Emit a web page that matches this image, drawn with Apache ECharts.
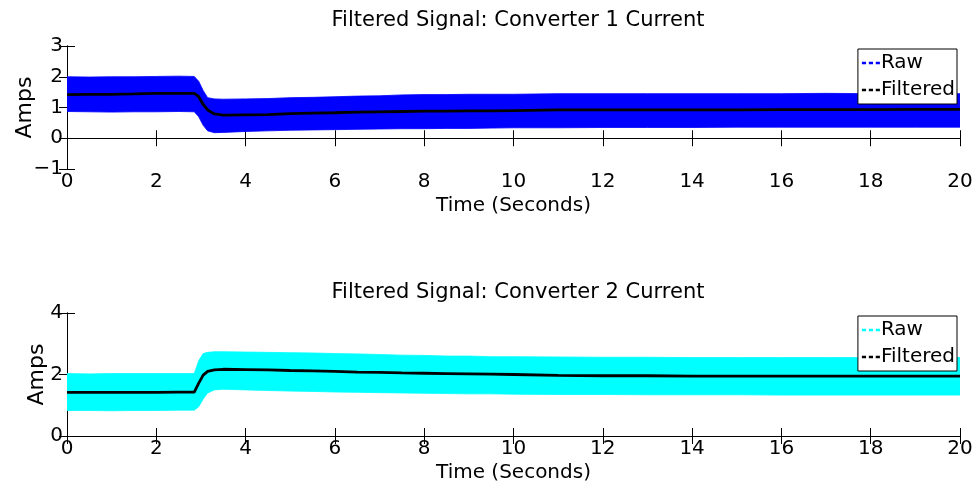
<!DOCTYPE html>
<html>
<head>
<meta charset="utf-8">
<script src="https://cdn.jsdelivr.net/npm/echarts@6/dist/echarts.min.js"></script>
<style>
  html, body { margin: 0; padding: 0; background: #fff; }
  #chart { width: 977px; height: 489px; }
</style>
</head>
<body>
<div id="chart"></div>
<script>
// time samples (seconds), shared by both converters
var times = [0, 0.5, 1, 1.5, 2, 2.5, 2.85, 2.95, 3.05, 3.15, 3.3, 3.5, 4, 4.5, 5, 5.5, 6, 6.5, 7, 7.5, 8, 8.5, 9, 9.5, 10, 11, 12, 13, 14, 15, 16, 17, 18, 19, 20];

// converter 1: raw envelope (upper / lower) and filtered
var conv1Upper = [2.0, 1.99, 2.0, 2.0, 2.01, 2.02, 2.01, 1.85, 1.55, 1.32, 1.28, 1.27, 1.28, 1.29, 1.32, 1.33, 1.35, 1.37, 1.38, 1.41, 1.42, 1.42, 1.43, 1.43, 1.43, 1.45, 1.45, 1.45, 1.45, 1.45, 1.45, 1.46, 1.45, 1.45, 1.45];
var conv1Lower = [0.87, 0.86, 0.85, 0.86, 0.86, 0.87, 0.86, 0.7, 0.42, 0.24, 0.18, 0.19, 0.22, 0.24, 0.26, 0.27, 0.28, 0.29, 0.3, 0.31, 0.31, 0.32, 0.32, 0.33, 0.34, 0.34, 0.35, 0.35, 0.35, 0.36, 0.36, 0.36, 0.36, 0.36, 0.36];
var conv1Filtered = [1.42, 1.43, 1.43, 1.44, 1.46, 1.46, 1.46, 1.35, 1.1, 0.92, 0.79, 0.75, 0.76, 0.77, 0.8, 0.82, 0.83, 0.85, 0.86, 0.87, 0.88, 0.88, 0.89, 0.89, 0.9, 0.92, 0.92, 0.92, 0.92, 0.92, 0.93, 0.93, 0.93, 0.94, 0.94];

// converter 2
var conv2Upper = [2.03, 2.02, 2.03, 2.03, 2.03, 2.03, 2.03, 2.45, 2.68, 2.72, 2.74, 2.74, 2.73, 2.72, 2.71, 2.7, 2.68, 2.67, 2.65, 2.63, 2.62, 2.6, 2.6, 2.58, 2.58, 2.57, 2.56, 2.56, 2.55, 2.55, 2.55, 2.55, 2.55, 2.55, 2.55];
var conv2Lower = [0.83, 0.83, 0.82, 0.83, 0.83, 0.84, 0.84, 0.95, 1.2, 1.4, 1.5, 1.52, 1.5, 1.48, 1.46, 1.45, 1.43, 1.42, 1.41, 1.4, 1.39, 1.38, 1.37, 1.37, 1.36, 1.35, 1.35, 1.34, 1.34, 1.34, 1.33, 1.33, 1.33, 1.33, 1.33];
var conv2Filtered = [1.42, 1.42, 1.42, 1.42, 1.42, 1.43, 1.43, 1.72, 1.98, 2.1, 2.15, 2.17, 2.16, 2.15, 2.13, 2.12, 2.1, 2.08, 2.07, 2.05, 2.04, 2.03, 2.02, 2.01, 2.0, 1.97, 1.96, 1.96, 1.95, 1.95, 1.95, 1.95, 1.95, 1.95, 1.95];

var titles = ['Filtered Signal: Converter 1 Current', 'Filtered Signal: Converter 2 Current'];
var rawColors = ['#0000ff', '#00ffff'];

var FONT = '"DejaVu Sans", "Liberation Sans", Arial, sans-serif';
var dashIcon = 'path://M0,0h3v1h-3z M5,0h3v1h-3z M10,0h3v1h-3z';

function pairs(xs, ys) {
    var out = [];
    for (var i = 0; i < xs.length; i++) {
        out.push([xs[i], ys[i]]);
    }
    return out;
}

function bandRows(xs, lo, hi) {
    var out = [];
    for (var i = 0; i < xs.length; i++) {
        out.push([xs[i], lo[i], hi[i]]);
    }
    return out;
}

function minusSign(v) {
    return String(v).replace('-', '\u2212');
}

// raw band: one polygon, upper edge forward then lower edge back
function makeBandRenderer(rows, color) {
    return function (params, api) {
        if (params.dataIndex !== 0) return;
        var pts = [];
        for (var i = 0; i < rows.length; i++) {
            pts.push(api.coord([rows[i][0], rows[i][2]]));
        }
        for (var i = rows.length - 1; i >= 0; i--) {
            pts.push(api.coord([rows[i][0], rows[i][1]]));
        }
        return {
            type: 'polygon',
            shape: { points: pts },
            style: { fill: color, stroke: color, lineWidth: 0.8 }
        };
    };
}

var grids = [
    { left: 67, right: 17, top: 46, height: 123, outerBoundsMode: 'none' },
    { left: 67, right: 17, top: 313, height: 123, outerBoundsMode: 'none' }
];

var xAxes = [];
var yAxes = [];
var yRanges = [[-1, 3, 1], [0, 4, 2]];
var yNameGaps = [31, 19];

for (var g = 0; g < 2; g++) {
    // bottom x axis with labels
    xAxes.push({
        type: 'value', gridIndex: g, min: 0, max: 20, interval: 2,
        name: 'Time (Seconds)', nameLocation: 'middle', nameGap: 27, nameMoveOverlap: false,
        nameTextStyle: { fontFamily: FONT, fontSize: 20, color: '#000' },
        axisLine: { show: true, lineStyle: { color: '#000', width: 1 } },
        axisTick: { inside: true, length: 8, lineStyle: { color: '#000' } },
        axisLabel: { fontFamily: FONT, fontSize: 20, color: '#000', margin: 3 },
        splitLine: { show: false }
    });
    // top mirror axis, ticks only
    xAxes.push({
        type: 'value', gridIndex: g, position: 'top', min: 0, max: 20, interval: 2,
        axisLine: { show: true, lineStyle: { color: '#000', width: 1 } },
        axisTick: { inside: true, length: 8, lineStyle: { color: '#000' } },
        axisLabel: { show: false },
        splitLine: { show: false }
    });
    var r = yRanges[g];
    yAxes.push({
        type: 'value', gridIndex: g, min: r[0], max: r[1], interval: r[2],
        name: 'Amps', nameLocation: 'middle', nameGap: yNameGaps[g], nameMoveOverlap: false,
        nameTextStyle: { fontFamily: FONT, fontSize: 22, color: '#000' },
        axisLine: { show: true, lineStyle: { color: '#000', width: 1 } },
        axisTick: { inside: true, length: 8, lineStyle: { color: '#000' } },
        axisLabel: { fontFamily: FONT, fontSize: 20, color: '#000', margin: 4, formatter: minusSign },
        splitLine: { show: false }
    });
    yAxes.push({
        type: 'value', gridIndex: g, position: 'right', min: r[0], max: r[1], interval: r[2],
        axisLine: { show: true, lineStyle: { color: '#000', width: 1 } },
        axisTick: { inside: true, length: 8, lineStyle: { color: '#000' } },
        axisLabel: { show: false },
        splitLine: { show: false }
    });
}

var uppers = [conv1Upper, conv2Upper];
var lowers = [conv1Lower, conv2Lower];
var filtered = [conv1Filtered, conv2Filtered];

var series = [];
for (var k = 0; k < 2; k++) {
    var rows = bandRows(times, lowers[k], uppers[k]);
    series.push({
        type: 'custom', name: 'Raw' + k, xAxisIndex: k * 2, yAxisIndex: k * 2,
        data: rows, encode: { x: 0, y: [1, 2] }, color: rawColors[k],
        renderItem: makeBandRenderer(rows, rawColors[k]), clip: true, silent: true, z: 2
    });
    series.push({
        type: 'line', name: 'Filtered' + k, xAxisIndex: k * 2, yAxisIndex: k * 2,
        data: pairs(times, filtered[k]), showSymbol: false, color: '#000',
        lineStyle: { width: 2.8, color: '#000' }, z: 3
    });
}

var legends = [];
for (var j = 0; j < 2; j++) {
    legends.push({
        orient: 'vertical', right: 20, top: grids[j].top + 3,
        data: [{ name: 'Raw' + j, icon: dashIcon }, { name: 'Filtered' + j, icon: dashIcon }],
        formatter: function (n) { return n.replace(/\d$/, ''); },
        symbolKeepAspect: false,
        itemWidth: 18, itemHeight: 2.5, itemGap: 7,
        padding: [4, 2, 4, 4],
        backgroundColor: '#fff', borderColor: '#000', borderWidth: 1, borderRadius: 0,
        textStyle: { fontFamily: FONT, fontSize: 20, color: '#000', padding: [0, 0, 0, -4] },
        itemStyle: { borderWidth: 0 },
        selectedMode: false
    });
}

var chart = echarts.init(document.getElementById('chart'), null, { renderer: 'canvas' });
chart.setOption({
    animation: false,
    backgroundColor: '#fff',
    title: [
        { text: titles[0], left: 513, textAlign: 'center', top: 5,
          textStyle: { fontFamily: FONT, fontSize: 21, fontWeight: 'normal', color: '#000' } },
        { text: titles[1], left: 513, textAlign: 'center', top: 277,
          textStyle: { fontFamily: FONT, fontSize: 21, fontWeight: 'normal', color: '#000' } }
    ],
    legend: legends,
    grid: grids,
    xAxis: xAxes,
    yAxis: yAxes,
    series: series
});
</script>
</body>
</html>
